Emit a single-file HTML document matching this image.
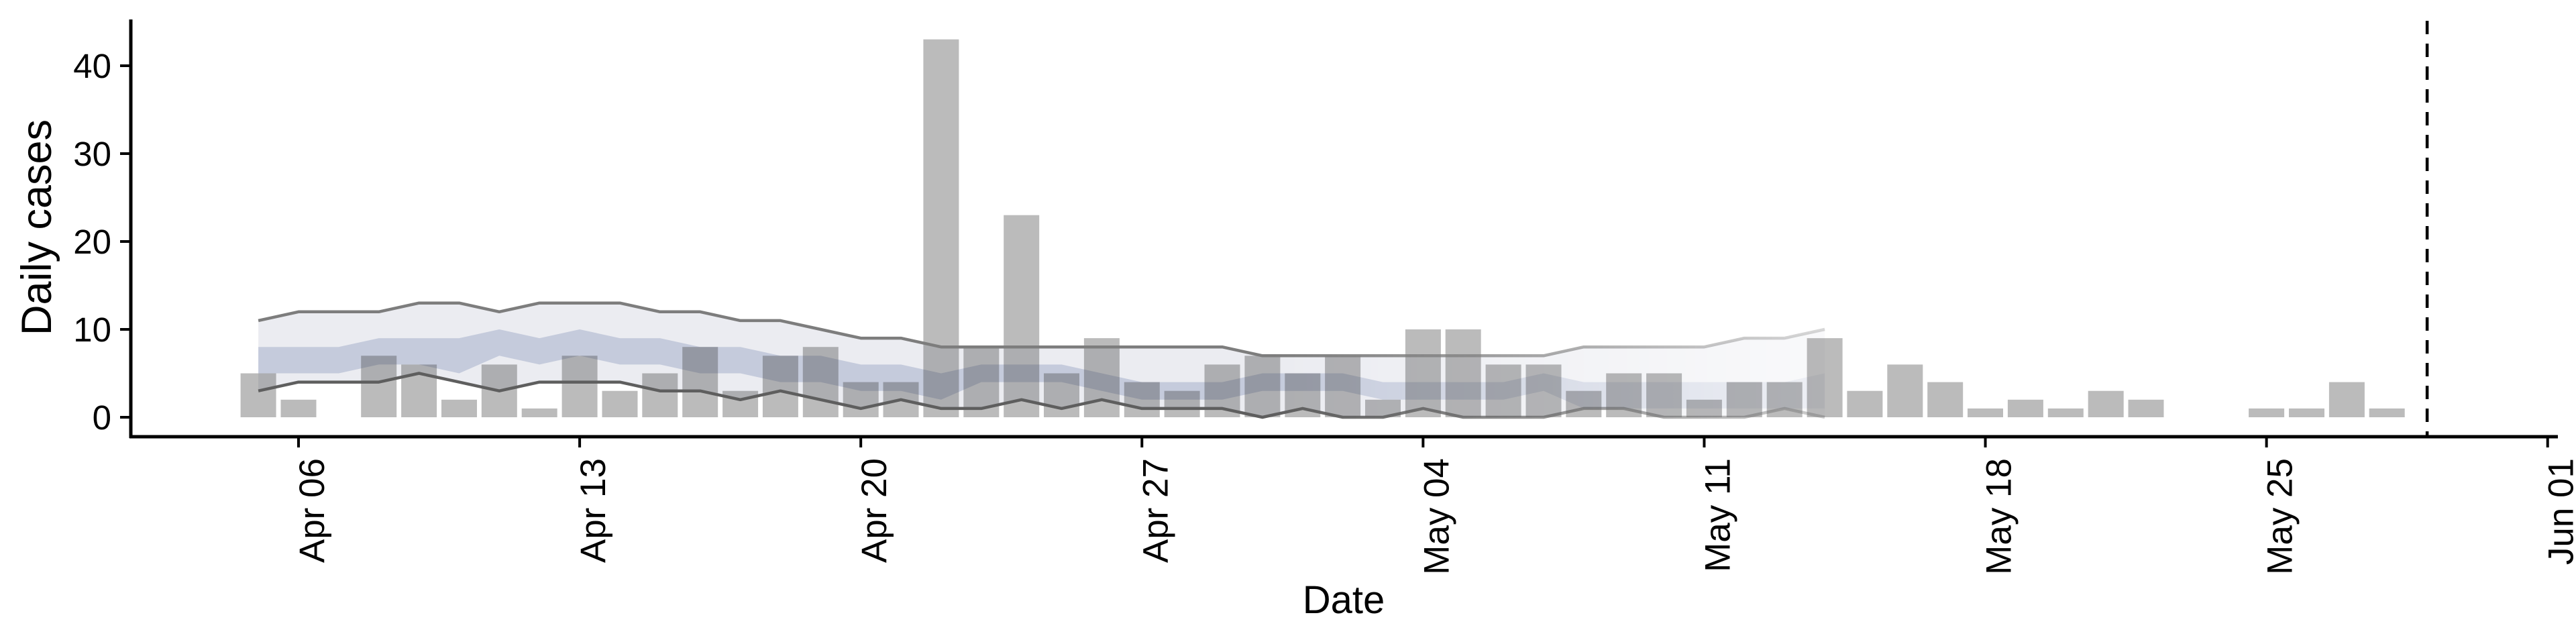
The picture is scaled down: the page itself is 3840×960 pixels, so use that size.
<!DOCTYPE html>
<html><head><meta charset="utf-8"><style>
html,body{margin:0;padding:0;background:#fff}
svg{display:block;font-family:"Liberation Sans",sans-serif}
</style></head><body>
<svg id="chart" width="3840" height="960" viewBox="0 0 3840 960" xmlns="http://www.w3.org/2000/svg">
<defs>
<linearGradient id="fade" gradientUnits="userSpaceOnUse" x1="1900" y1="0" x2="2720" y2="0">
<stop offset="0" stop-color="#fff" stop-opacity="1"/>
<stop offset="1" stop-color="#fff" stop-opacity="0.3"/>
</linearGradient>
<mask id="fademask" maskUnits="userSpaceOnUse" x="0" y="0" width="3840" height="960">
<rect x="0" y="0" width="3840" height="960" fill="url(#fade)"/>
</mask>
</defs>
<g id="bands" mask="url(#fademask)"></g>
<g id="bars"></g>
<g id="lines" mask="url(#fademask)"></g>
<g id="axes"></g>
</svg>
<script>
const barDates = ["2020-04-05","2020-04-06","2020-04-07","2020-04-08","2020-04-09","2020-04-10","2020-04-11","2020-04-12","2020-04-13","2020-04-14","2020-04-15","2020-04-16","2020-04-17","2020-04-18","2020-04-19","2020-04-20","2020-04-21","2020-04-22","2020-04-23","2020-04-24","2020-04-25","2020-04-26","2020-04-27","2020-04-28","2020-04-29","2020-04-30","2020-05-01","2020-05-02","2020-05-03","2020-05-04","2020-05-05","2020-05-06","2020-05-07","2020-05-08","2020-05-09","2020-05-10","2020-05-11","2020-05-12","2020-05-13","2020-05-14","2020-05-15","2020-05-16","2020-05-17","2020-05-18","2020-05-19","2020-05-20","2020-05-21","2020-05-22","2020-05-23","2020-05-24","2020-05-25","2020-05-26","2020-05-27","2020-05-28"];
const dailyCases = [5,2,0,7,6,2,6,1,7,3,5,8,3,7,8,4,4,43,8,23,5,9,4,3,6,7,5,7,2,10,10,6,6,3,5,5,2,4,4,9,3,6,4,1,2,1,3,2,0,0,1,1,4,1];
const bandStart = "2020-04-05";
const outerUpper = [11,12,12,12,13,13,12,13,13,13,12,12,11,11,10,9,9,8,8,8,8,8,8,8,8,7,7,7,7,7,7,7,7,8,8,8,8,9,9,10];
const outerLower = [3,4,4,4,5,4,3,4,4,4,3,3,2,3,2,1,2,1,1,2,1,2,1,1,1,0,1,0,0,1,0,0,0,1,1,0,0,0,1,0];
const innerUpper = [8,8,8,9,9,9,10,9,10,9,9,8,8,7,7,6,6,5,6,6,6,5,4,4,4,5,5,5,4,4,4,4,5,4,4,4,4,4,4,5];
const innerLower = [5,5,5,6,6,5,7,6,7,6,6,5,5,4,4,3,3,2,4,4,4,3,2,2,2,3,3,3,2,2,2,2,3,1,1,1,1,1,1,1];
const yTicks = [0,10,20,30,40];
const xTickDates = ["2020-04-06","2020-04-13","2020-04-20","2020-04-27","2020-05-04","2020-05-11","2020-05-18","2020-05-25","2020-06-01"];
const xTickLabels = ["Apr 06","Apr 13","Apr 20","Apr 27","May 04","May 11","May 18","May 25","Jun 01"];
const cutoffDate = "2020-05-29";

const NS="http://www.w3.org/2000/svg";
const DAY=86400000, t0=Date.UTC(2020,3,6);
function dnum(s){const p=s.split("-");return (Date.UTC(+p[0],+p[1]-1,+p[2])-t0)/DAY;}
const X0=445, DX=59.87;
function x(d){return X0+d*DX;}
function y(v){return 622-v*13.1;}
function mk(tag,attrs,parent){const e=document.createElementNS(NS,tag);for(const k in attrs)e.setAttribute(k,attrs[k]);parent.appendChild(e);return e;}
const gB=document.getElementById("bands"),gR=document.getElementById("bars"),gL=document.getElementById("lines"),gA=document.getElementById("axes");
const s0=dnum(bandStart);
function bandPath(up,lo){let p="";up.forEach((v,i)=>{p+=(i?"L":"M")+x(s0+i).toFixed(1)+","+y(v).toFixed(1);});for(let i=lo.length-1;i>=0;i--)p+="L"+x(s0+i).toFixed(1)+","+y(lo[i]).toFixed(1);return p+"Z";}
function linePath(a){return a.map((v,i)=>(i?"L":"M")+x(s0+i).toFixed(1)+","+y(v).toFixed(1)).join("");}
const ob=mk("path",{d:bandPath(outerUpper,outerLower),fill:"#ebecf1"},gB);


const ib=mk("path",{d:bandPath(innerUpper,innerLower),fill:"#c5cbdc"},gB);


barDates.forEach((d,i)=>{
  const v=dailyCases[i]; if(v<=0) return;
  const r=mk("rect",{x:(x(dnum(d))-26.5).toFixed(1),y:y(v).toFixed(1),width:53,height:(y(0)-y(v)).toFixed(1),fill:"rgb(50,50,50)","fill-opacity":"0.33"},gR);
  
  
});
const lu=mk("path",{d:linePath(outerUpper),fill:"none",stroke:"#7d7d7d","stroke-width":4.5,"stroke-linejoin":"round"},gL);


const ll=mk("path",{d:linePath(outerLower),fill:"none",stroke:"#5e5e5e","stroke-width":4.5,"stroke-linejoin":"round"},gL);


const cx=x(dnum(cutoffDate));
const cl=mk("line",{x1:cx,y1:31,x2:cx,y2:651,stroke:"#000","stroke-width":4.5,"stroke-dasharray":"20,14"},gA);


const ya=mk("line",{x1:195,y1:29,x2:195,y2:653,stroke:"#000","stroke-width":5},gA);


const xa=mk("line",{x1:193,y1:651,x2:3813,y2:651,stroke:"#000","stroke-width":5},gA);


yTicks.forEach(v=>{
  const t=mk("line",{x1:179,y1:y(v),x2:195,y2:y(v),stroke:"#000","stroke-width":4},gA);
  
  
  const l=mk("text",{x:166,y:y(v)+18,"text-anchor":"end","font-size":51,fill:"#000"},gA);
  l.textContent=v;
  
  
});
xTickDates.forEach((d,i)=>{
  const tx=x(dnum(d));
  const t=mk("line",{x1:tx,y1:651,x2:tx,y2:667,stroke:"#000","stroke-width":4},gA);
  
  
  const l=mk("text",{x:0,y:0,"text-anchor":"end","font-size":53,fill:"#000",transform:"translate("+(tx+38).toFixed(1)+",683) rotate(-90)"},gA);
  l.textContent=xTickLabels[i];
  
  
});
const xt=mk("text",{x:2003,y:914,"text-anchor":"middle","font-size":58,fill:"#000"},gA);
xt.textContent="Date";


const yt=mk("text",{x:0,y:0,"text-anchor":"middle","font-size":63,fill:"#000",transform:"translate(76,339) rotate(-90)"},gA);
yt.textContent="Daily cases";


</script>
</body></html>
